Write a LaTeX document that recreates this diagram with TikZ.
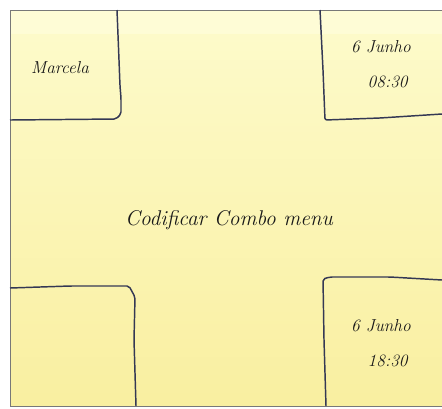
\documentclass[tikz,border=0pt]{standalone}
\usepackage{tikz}
\usetikzlibrary{positioning}
\definecolor{notetop}{RGB}{253,251,204}
\definecolor{notebot}{RGB}{249,239,160}
\definecolor{notelite}{RGB}{255,254,222}
\definecolor{pen}{RGB}{52,56,84}
\definecolor{edge}{RGB}{120,120,120}
\tikzset{
  sketch/.style={draw=pen, line width=1.1pt, line join=round, rounded corners=1.5pt},
  hand/.style={font=\fontsize{13}{15}\selectfont\itshape, text=black!90, inner sep=1pt},
  title/.style={hand, font=\fontsize{16}{19}\selectfont\itshape},
}
\begin{document}
\begin{tikzpicture}[x=0.75pt, y=-0.75pt]
  \useasboundingbox (0,0) rectangle (442,408);
  % note paper
  \shade[top color=notetop, bottom color=notebot] (10,10) rectangle (442,406);
  \fill[notelite, opacity=0.6] (10,10) rectangle (442,34);
  \draw[edge, line width=0.6pt] (442,10) -- (10,10) -- (10,406) -- (442,406);
  % corner boxes
  \draw[sketch] (117,10) -- (119,60) -- (120,86) -- (121,98) -- (121,114) -- (116,119) -- (10,120);
  \draw[sketch] (320,10) -- (323,70) -- (325,120) -- (380,118) -- (442,114);
  \draw[sketch] (10,288) -- (70,286) -- (129,286) -- (135,297) -- (134,340) -- (136,406);
  \draw[sketch] (442,280) -- (390,277) -- (330,277) -- (323,279) -- (324,340) -- (326,406);
  % texts
  \node[hand] (who) at (60,68) {Marcela};
  \node[hand] (day1) at (381,47) {6 Junho};
  \node[hand] (time1) [below=15pt of day1, xshift=5pt] {08:30};
  \node[title] (task) at (229,220) {Codificar Combo menu};
  \node[hand] (day2) at (381,326) {6 Junho};
  \node[hand] (time2) [below=15pt of day2, xshift=5pt] {18:30};
\end{tikzpicture}
\end{document}
